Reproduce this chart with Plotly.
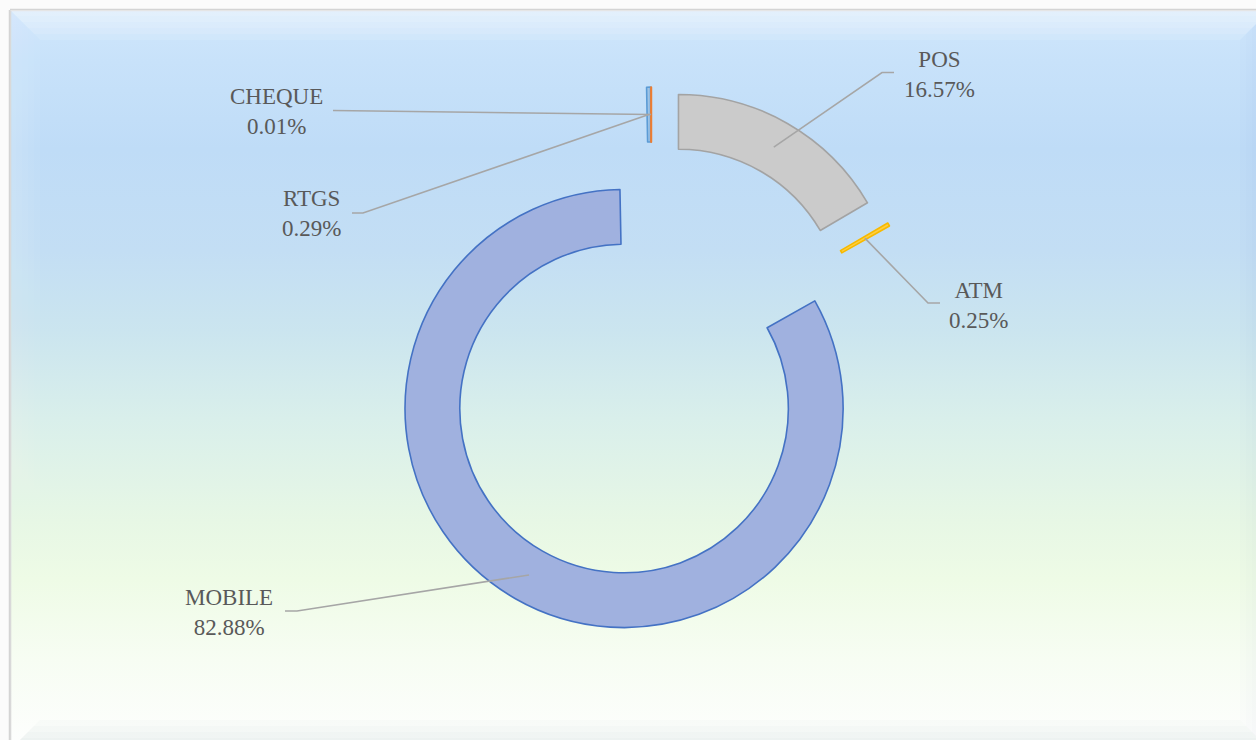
import math
import plotly.graph_objects as go

# ---------------- data ----------------
labels = ["POS", "ATM", "MOBILE", "RTGS", "CHEQUE"]
shares = [16.57, 0.25, 82.88, 0.29, 0.01]

# ---------------- styles ----------------
fill_colors = ["#cbcbcb", "#ffcf3f", "#a0b1df", "#9dc3e6", "#ed7d31"]
line_colors = ["#a3a3a3", "#f7b900", "#4472c4", "#5b9bd5", "#ed7d31"]
line_widths = [1.6, 1.6, 1.6, 1.6, 2.0]

W, H = 1256, 740
PULL = 0.25
HOLE = 0.75
DOM_X = [0.2885, 0.7485]
DOM_Y = [0.1422, 0.8822]

FONT = dict(family="Liberation Serif, Times New Roman, serif", size=23, color="#595959")
LEADER = "#a6a6a6"

# label text centre (px) and leader start / elbow points (px)
label_layout = {
    "CHEQUE": dict(pos=(276.5, 111), pts=[(333, 110.5)]),
    "RTGS": dict(pos=(311.5, 213.5), pts=[(352, 213), (363, 213)]),
    "POS": dict(pos=(939, 74), pts=[(894, 72.5), (882, 72.5)]),
    "ATM": dict(pos=(978, 305), pts=[(940, 303), (928, 303)]),
    "MOBILE": dict(pos=(229, 612.5), pts=[(285, 611), (297, 611)]),
}

# background gradient (fraction from top of frame -> colour)
bg_stops = [
    [0.0, "#d0e7fc"],
    [0.07, "#c8e2fa"],
    [0.19, "#bfdcf7"],
    [0.33, "#c3def4"],
    [0.44, "#cbe5ef"],
    [0.56, "#d9efeb"],
    [0.70, "#e7f7e5"],
    [0.78, "#eefbe6"],
    [0.89, "#f7fdf3"],
    [1.0, "#fdfefd"],
]

FRAME = (10, 10, 1270, 750)
BEVEL = 35

fig = go.Figure()

# ---- background panel with vertical gradient ----
fx0, fy0, fx1, fy1 = FRAME
fig.add_trace(go.Scatter(
    x=[fx0, fx1, fx1, fx0, fx0], y=[fy0, fy0, fy1, fy1, fy0],
    mode="lines", line=dict(color="#d4d4d4", width=2.5),
    fill="toself",
    fillgradient=dict(type="vertical", colorscale=bg_stops, start=fy0, stop=H),
    hoverinfo="skip", showlegend=False,
))

# ---- bevel overlays (stacked thin layers to fake a soft fade) ----
def band(side, depth):
    if side == "top":
        return [fx0, fx1, fx1 - depth, fx0 + depth], [fy0, fy0, fy0 + depth, fy0 + depth]
    if side == "bottom":
        return [fx0, fx1, fx1 - depth, fx0 + depth], [fy1, fy1, fy1 - depth, fy1 - depth]
    if side == "left":
        return [fx0, fx0 + depth, fx0 + depth, fx0], [fy0, fy0 + depth, fy1 - depth, fy1]
    return [fx1, fx1 - depth, fx1 - depth, fx1], [fy0, fy0 + depth, fy1 - depth, fy1]

bevel_specs = [
    ("top", "rgba(255,255,255,0.11)"),
    ("left", "rgba(255,255,255,0.035)"),
    ("right", "rgba(60,100,150,0.012)"),
    ("bottom", "rgba(140,150,165,0.03)"),
]
for side, col in bevel_specs:
    for depth in range(6, BEVEL + 1, 6):
        xs, ys = band(side, depth)
        fig.add_trace(go.Scatter(
            x=xs + [xs[0]], y=ys + [ys[0]], mode="lines", line=dict(width=0),
            fill="toself", fillcolor=col, hoverinfo="skip", showlegend=False,
        ))

# ---- exploded doughnut ----
fig.add_trace(go.Pie(
    labels=labels, values=shares, sort=False, direction="clockwise", rotation=0,
    hole=HOLE, pull=[PULL] * len(labels), textinfo="none", hoverinfo="label+percent",
    marker=dict(colors=fill_colors, line=dict(color=line_colors, width=line_widths)),
    domain=dict(x=DOM_X, y=DOM_Y), showlegend=False,
))

# ---- geometry (replicating plotly pie scaling) for leader lines ----
r = min(W * (DOM_X[1] - DOM_X[0]), H * (DOM_Y[1] - DOM_Y[0])) / (2 + 2 * PULL)
cx = W * (DOM_X[0] + DOM_X[1]) / 2
cy = H * (1 - (DOM_Y[0] + DOM_Y[1]) / 2)
total = sum(shares)

shapes = []
annotations = []
cum = 0.0
for lab, v in zip(labels, shares):
    mid = 2 * math.pi * (cum + v / 2) / total
    cum += v
    dist = PULL * r + r * (1 + HOLE) / 2
    ax = cx + dist * math.sin(mid)
    ay = cy - dist * math.cos(mid)
    lay = label_layout[lab]
    pts = lay["pts"] + [(ax, ay)]
    path = "M " + " L ".join(f"{px:.2f},{py:.2f}" for px, py in pts)
    shapes.append(dict(type="path", path=path, xref="x", yref="y",
                       line=dict(color=LEADER, width=1.6), layer="above"))
    pct = f"{v / total * 100:.2f}%"
    annotations.append(dict(
        x=lay["pos"][0], y=lay["pos"][1], xref="x", yref="y",
        text=f"{lab}<br>{pct}", showarrow=False, font=FONT,
        xanchor="center", yanchor="middle", align="center",
    ))

fig.update_layout(
    width=W, height=H, margin=dict(l=0, r=0, t=0, b=0),
    paper_bgcolor="#fbfbfb", plot_bgcolor="rgba(0,0,0,0)",
    xaxis=dict(range=[0, W], visible=False, fixedrange=True, domain=[0, 1]),
    yaxis=dict(range=[H, 0], visible=False, fixedrange=True, domain=[0, 1]),
    shapes=shapes, annotations=annotations, showlegend=False,
)

fig.write_html("out.html")
